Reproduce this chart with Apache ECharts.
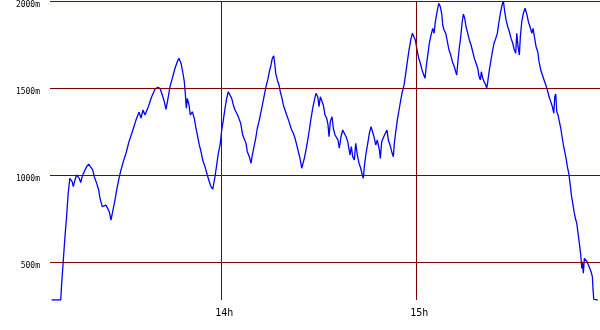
<!DOCTYPE html>
<html>
<head>
<meta charset="utf-8">
<script src="https://cdn.jsdelivr.net/npm/echarts@6/dist/echarts.min.js"></script>
<style>
html,body{margin:0;padding:0;background:#fff;}
#c{width:600px;height:330px;}
</style>
</head>
<body>
<div id="c"></div>
<script>
// time in minutes after 13:00, elevation in metres
var times = [7.8,10.6,10.9,11.4,11.9,12.4,12.9,13.4,13.75,14.15,14.46,14.98,15.5,15.9,16.3,16.74,17.23,18.06,18.58,19.2,19.8,20.43,20.92,21.66,22.28,22.68,23.38,23.9,24.52,25.05,25.54,26.06,26.58,27.29,27.82,28.52,29.14,29.85,30.68,31.6,32.8,33.75,34.7,35.3,35.9,
36.52,37.54,38.58,39.6,40.43,41.14,41.85,42.46,42.98,43.51,44.22,44.92,45.75,46.46,46.98,47.6,48.12,48.62,48.92,49.23,49.54,50.06,50.46,51.08,51.69,52.12,52.74,53.23,53.75,54.28,54.98,55.69,56.31,56.83,57.35,57.75,58.06,58.58,59.08,59.69,60.12,60.62,61.14,61.66,62.15,62.68,63.2,63.69,64.22,64.74,65.23,65.97,
66.58,66.98,67.6,68,68.62,69.14,69.54,70.06,70.58,71.08,71.69,72.22,72.74,73.23,73.75,74.28,74.77,75.29,75.69,76.12,76.43,76.74,77.23,77.75,78.15,78.68,79.08,79.6,80.12,80.83,81.45,82.15,82.68,83.2,83.69,84.22,84.74,85.23,85.54,86.06,86.58,87.08,87.6,88.12,88.62,89.14,89.66,90.06,90.46,90.89,91.38,91.91,92.43,92.83,93.14,93.54,94.06,94.46,94.98,95.51,95.91,96.31,96.83,97.35,97.85,98.37,98.89,
99.6,100,100.43,100.92,101.35,101.85,102.37,102.89,103.38,103.69,104,104.52,105.05,105.54,106.06,106.46,106.98,107.51,108,108.62,108.92,109.35,109.97,110.46,110.98,111.38,111.91,112.43,112.92,113.23,113.66,114.15,114.68,115.2,115.69,116.22,116.74,117.23,117.75,118.28,118.77,119.29,119.69,120.22,120.74,121.23,121.75,122.28,122.68,122.98,123.51,124,124.52,125.05,125.45,125.85,126.37,126.89,
127.38,127.82,128.12,128.52,129.05,129.54,130.06,130.58,131.08,131.69,132.12,132.43,132.74,133.14,133.66,134.06,134.46,134.89,135.29,135.82,136.31,136.83,137.35,137.85,138.37,138.89,139.29,139.69,140,140.43,140.83,141.35,141.66,141.97,142.37,142.89,143.38,143.91,144.43,144.92,145.35,145.85,146.37,146.77,147.2,147.6,148.12,148.62,149.14,149.66,150.15,150.58,150.89,151.29,151.69,152,152.43,152.92,153.45,
154.06,154.46,154.98,155.51,155.91,156.31,156.83,157.35,157.75,158.28,158.77,159.29,159.82,160.31,160.83,161.35,161.85,162.28,162.58,162.89,163.2,163.6,164,164.43,164.83,165.23,165.66,166.06,166.46,166.89,167.29,167.69,168.12,168.52,168.92,169.35,169.75,170.15,170.58,170.89,171.08,171.38,171.69,172.12,172.52,172.92,173.35,173.75,174.15,174.37,174.58,175.82];
var elevs = [280,280,378,510,644,759,894,980,986,960,932,970,999,1009,980,955,993,1028,1047,1062,1066,1028,989,951,913,865,817,807,826,817,788,740,788,855,913,980,1028,1076,1124,1191,1258,1315,1361,1327,1373,
1344,1392,1449,1492,1504,1498,1459,1421,1377,1430,1507,1555,1613,1651,1670,1642,1593,1536,1469,1383,1440,1402,1344,1363,1325,1277,1219,1172,1133,1085,1047,999,960,932,917,913,989,1057,1124,1181,1258,1315,1383,1440,1478,1484,1440,1402,1373,1354,1334,1296,
1229,1210,1181,1133,1104,1066,1114,1162,1210,1268,1315,1363,1412,1459,1507,1546,1593,1632,1670,1685,1642,1584,1546,1517,1478,1440,1402,1373,1344,1306,1268,1239,1210,1172,1133,1095,1038,1038,1095,1143,1200,1258,1325,1383,1430,1469,1449,1392,1449,1459,1402,1344,1325,1287,1219,1306,1334,1268,1229,1239,1200,1153,1219,1258,1268,1219,1191,
1114,1162,1104,1085,1181,1114,1066,1038,999,980,1047,1124,1181,1239,1277,1287,1219,1172,1200,1143,1095,1191,1219,1239,1258,1200,1172,1133,1104,1181,1248,1315,1373,1430,1478,1517,1584,1651,1718,1776,1814,1823,1776,1718,1670,1642,1603,1574,1555,1613,1689,1757,1804,1843,1814,1881,1938,1987,
1967,1925,1862,1833,1814,1766,1718,1689,1651,1622,1593,1574,1642,1718,1795,1872,1925,1900,1852,1814,1776,1747,1708,1670,1642,1613,1565,1546,1593,1555,1536,1517,1498,1536,1593,1651,1708,1757,1785,1814,1872,1929,1977,2000,1938,1891,1852,1823,1785,1757,1718,1699,1814,1737,1689,1795,1881,1929,1958,
1919,1881,1852,1814,1843,1795,1737,1708,1651,1603,1574,1546,1517,1488,1449,1421,1392,1354,1449,1465,1363,1344,1306,1268,1219,1172,1133,1095,1047,1009,951,884,836,788,750,721,664,606,539,462,500,434,520,510,500,491,462,443,414,338,284,280];

var yTicks = [500, 1000, 1500, 2000];
var xTicks = [60, 120];
var xTickLabels = ['14h', '15h'];

var gridColor = '#800000';
var pts = times.map(function (t, i) { return [t, elevs[i]]; });

var chart = echarts.init(document.getElementById('c'), null, {renderer: 'canvas'});
chart.setOption({
  animation: false,
  backgroundColor: '#ffffff',
  grid: {left: 50, right: 0, top: 1, bottom: 30, containLabel: false},
  xAxis: {
    type: 'value', min: 7.3, max: 176.5,
    axisLine: {show: false}, axisTick: {show: false}, splitLine: {show: false},
    axisLabel: {
      customValues: xTicks,
      formatter: function (v) { var i = xTicks.indexOf(v); return i >= 0 ? xTickLabels[i] : ''; },
      fontFamily: 'DejaVu Sans Mono', fontSize: 10, color: '#000',
      margin: 8, padding: [0, 0, 0, 6]
    }
  },
  yAxis: {
    type: 'value', min: 280, max: 2000,
    axisLine: {show: false}, axisTick: {show: false}, splitLine: {show: false},
    axisLabel: {
      customValues: yTicks,
      formatter: function (v) { return v + 'm'; },
      fontFamily: 'DejaVu Sans Mono', fontSize: 8, color: '#000',
      margin: 10, verticalAlign: 'top'
    }
  },
  series: [
    {
      type: 'line', data: [], z: 1, silent: true,
      markLine: {
        silent: true, symbol: ['none', 'none'], animation: false,
        label: {show: false},
        lineStyle: {color: gridColor, width: 1, type: 'solid'},
        emphasis: {disabled: true},
        data: yTicks.map(function (v) { return {yAxis: v}; })
          .concat(xTicks.map(function (v) { return {xAxis: v}; }))
      }
    },
    {
      type: 'line', data: pts, z: 3, showSymbol: false, symbol: 'none',
      lineStyle: {color: '#0000ff', width: 1.3},
      itemStyle: {color: '#0000ff'}
    }
  ]
});
</script>
</body>
</html>
